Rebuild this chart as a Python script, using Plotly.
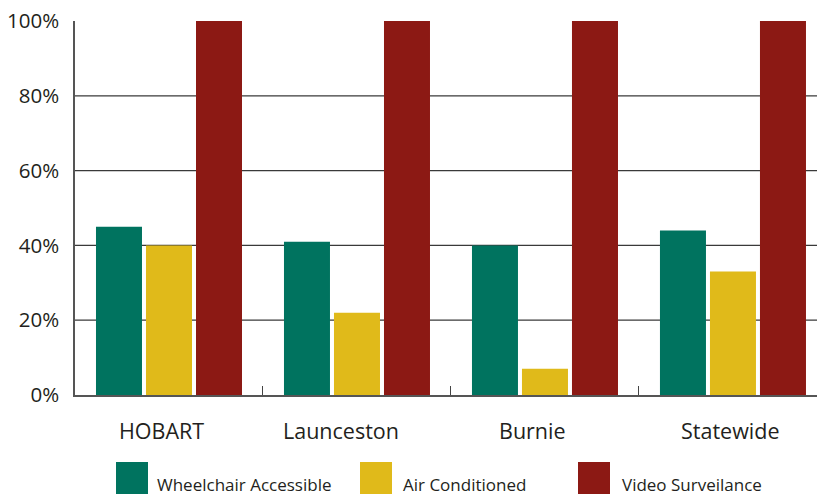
import plotly.graph_objects as go

# Share of taxi ranks / vehicles with each facility, by region
categories = ["HOBART", "Launceston", "Burnie", "Statewide"]
series_names = ["Wheelchair Accessible", "Air Conditioned", "Video Surveilance"]
wheelchair = [45, 41, 40, 44]
air_conditioned = [40, 22, 7, 33]
video = [100, 100, 100, 100]
y_ticks = [0, 20, 40, 60, 80, 100]
y_tick_labels = ["0%", "20%", "40%", "60%", "80%", "100%"]

colors = ["#00735F", "#E0BA1A", "#8C1914"]
values = [wheelchair, air_conditioned, video]
FONT = "Open Sans, Noto Sans, sans-serif"
TEXT = "#231F20"

W, H = 817, 497
ml, mr, mt, mb = 75, 0, 21, 102
pw, ph = W - ml - mr, H - mt - mb
base = mt + ph  # pixel row of the x axis


def py(p):
    """pixel row -> paper y"""
    return (base - p) / ph


def px(p):
    """pixel column -> paper x"""
    return (p - ml) / pw


fig = go.Figure()
for name, vals, col in zip(series_names, values, colors):
    fig.add_trace(go.Bar(x=categories, y=vals, name=name,
                         marker=dict(color=col, line=dict(width=0)),
                         showlegend=False))

# horizontal grid lines at the interior ticks
shapes = []
for v in y_ticks[1:-1]:
    shapes.append(dict(type="line", xref="paper", yref="y", x0=0, x1=1, y0=v, y1=v,
                       line=dict(color="#3a3a3a", width=1.2), layer="below"))

annotations = []
# category names set below the axis, each nudged slightly left
label_shift = [-8, -16, -12, -3]
for cat, dx in zip(categories, label_shift):
    annotations.append(dict(xref="x", yref="paper", x=cat, y=py(430), xshift=dx,
                            xanchor="center", yanchor="middle", text=cat,
                            showarrow=False,
                            font=dict(family=FONT, size=21.5, color=TEXT)))

# legend drawn as large square swatches with captions
legend_x = [116, 360, 578]
legend_text_x = [155, 401, 620]
for lx, tx, name, col in zip(legend_x, legend_text_x, series_names, colors):
    shapes.append(dict(type="rect", xref="paper", yref="paper", x0=px(lx), x1=px(lx + 32),
                       y0=py(462), y1=py(494), fillcolor=col, line=dict(width=0)))
    annotations.append(dict(xref="paper", yref="paper", x=px(tx), y=py(484.5),
                            xanchor="left", yanchor="middle",
                            text=name, showarrow=False,
                            font=dict(family=FONT, size=17, color=TEXT)))

fig.update_layout(
    width=W, height=H,
    margin=dict(l=ml, r=mr, t=mt, b=mb),
    paper_bgcolor="white", plot_bgcolor="white",
    barmode="group", bargap=0.202, bargroupgap=0.08,
    shapes=shapes, annotations=annotations,
    font=dict(family=FONT, color=TEXT),
)
fig.update_xaxes(
    range=[-0.5, 3.447], showgrid=False, zeroline=False,
    showline=True, linecolor="#555555", linewidth=1.5,
    ticks="inside", tickson="boundaries", ticklen=9, tickcolor="#444444", tickwidth=1,
    showticklabels=False,
)
fig.update_yaxes(
    range=[0, 100], tickvals=y_ticks, ticktext=y_tick_labels,
    showgrid=False, zeroline=False,
    showline=True, linecolor="#555555", linewidth=1.5,
    ticks="", tickfont=dict(family=FONT, size=20.5, color=TEXT), ticklabelstandoff=10,
)

fig.write_html("out.html")
